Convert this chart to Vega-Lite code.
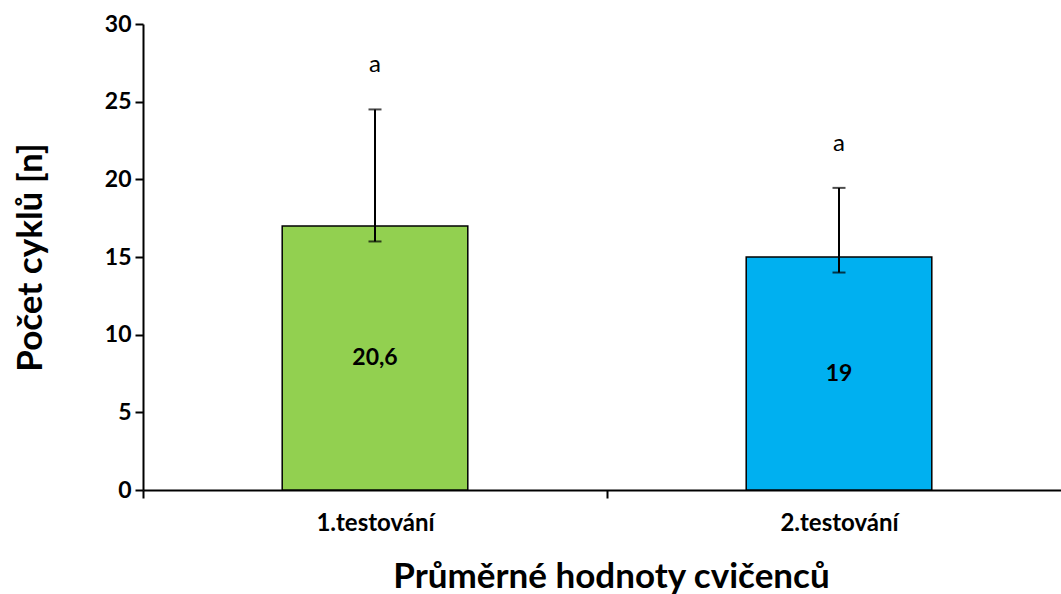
{
  "$schema": "https://vega.github.io/schema/vega-lite/v6.json",
  "autosize": "none",
  "width": 918,
  "height": 466,
  "padding": {"left": 143, "top": 24, "right": 0, "bottom": 104},
  "background": "white",
  "config": {
    "view": {"stroke": null},
    "font": "Lato"
  },
  "data": {
    "values": [
      {"group": "1.testování", "mean": 17, "low": 16, "high": 24.5, "label": "20,6", "sig": "a"},
      {"group": "2.testování", "mean": 15, "low": 14, "high": 19.45, "label": "19", "sig": "a"}
    ]
  },
  "transform": [{"calculate": "datum.mean / 2", "as": "mid"}],
  "encoding": {
    "x": {
      "field": "group",
      "type": "nominal",
      "sort": null,
      "scale": {"range": [0, 928], "paddingInner": 0, "paddingOuter": 0},
      "axis": {
        "title": "Průměrné hodnoty cvičenců",
        "titleFont": "Lato",
        "titleFontSize": 35,
        "titleFontWeight": "bold",
        "titleColor": "black",
        "titlePadding": 24,
        "titleX": 468,
        "labelAngle": 0,
        "labelFont": "Lato",
        "labelFontSize": 24,
        "labelFontWeight": "bold",
        "labelColor": "black",
        "labelPadding": 13,
        "tickBand": "extent",
        "tickSize": 8,
        "tickWidth": 2,
        "tickColor": "black",
        "domainColor": "black",
        "domainWidth": 2
      }
    }
  },
  "layer": [
    {
      "mark": {"type": "bar", "stroke": "black", "strokeWidth": 1.5, "width": {"band": 0.4}},
      "encoding": {
        "y": {
          "field": "mean",
          "type": "quantitative",
          "scale": {"domain": [0, 30]},
          "axis": {
            "title": "Počet cyklů [n]",
            "titleFont": "Lato",
            "titleFontSize": 35,
            "titleFontWeight": "bold",
            "titleColor": "black",
            "titleX": -113,
            "titleY": 233,
            "titleAlign": "center",
            "titleBaseline": "middle",
            "titleAngle": -90,
            "values": [0, 5, 10, 15, 20, 25, 30],
            "grid": false,
            "labelFont": "Lato",
            "labelFontSize": 23,
            "labelFontWeight": "bold",
            "labelColor": "black",
            "labelPadding": 4,
            "tickSize": 8,
            "tickWidth": 2,
            "tickColor": "black",
            "domainColor": "black",
            "domainWidth": 2
          }
        },
        "color": {
          "field": "group",
          "type": "nominal",
          "scale": {"domain": ["1.testování", "2.testování"], "range": ["#92D050", "#00B0F0"]},
          "legend": null
        }
      }
    },
    {
      "mark": {"type": "rule", "color": "black", "strokeWidth": 2},
      "encoding": {
        "y": {"field": "low", "type": "quantitative"},
        "y2": {"field": "high"}
      }
    },
    {
      "mark": {"type": "tick", "color": "black", "thickness": 2, "size": 13, "orient": "horizontal"},
      "encoding": {"y": {"field": "high", "type": "quantitative"}}
    },
    {
      "mark": {"type": "tick", "color": "black", "thickness": 2, "size": 13, "orient": "horizontal"},
      "encoding": {"y": {"field": "low", "type": "quantitative"}}
    },
    {
      "mark": {"type": "text", "font": "Lato", "fontSize": 24, "color": "black", "dy": -44, "baseline": "middle"},
      "encoding": {
        "y": {"field": "high", "type": "quantitative"},
        "text": {"field": "sig"}
      }
    },
    {
      "mark": {"type": "text", "font": "Lato", "fontSize": 23, "fontWeight": "bold", "color": "black", "baseline": "middle"},
      "encoding": {
        "y": {"field": "mid", "type": "quantitative"},
        "text": {"field": "label"}
      }
    }
  ]
}
